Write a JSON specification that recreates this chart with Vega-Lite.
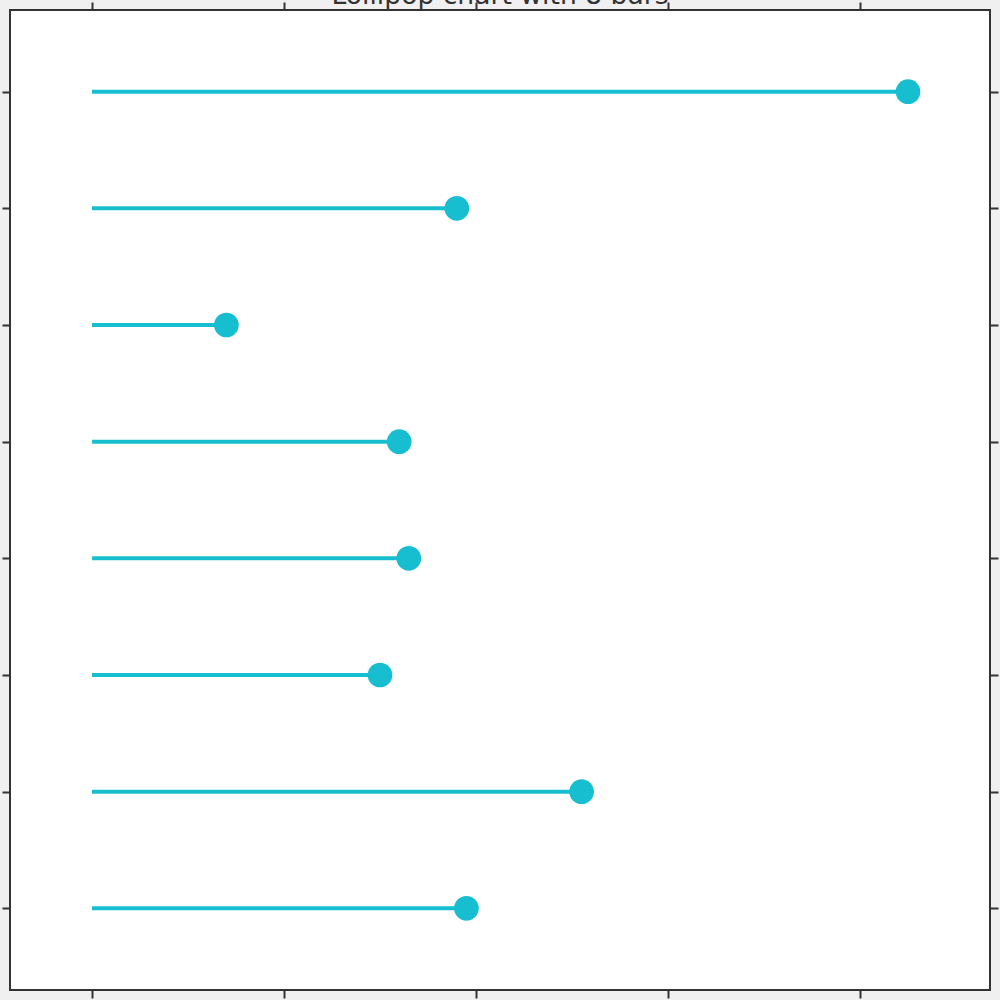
{
  "$schema": "https://vega.github.io/schema/vega-lite/v6.json",
  "width": 980,
  "height": 980,
  "autosize": {"type": "none"},
  "padding": {"left": 10, "top": 10, "right": 10, "bottom": 10},
  "background": "#f0f0f0",
  "config": {
    "view": {"stroke": "#333333", "strokeWidth": 2, "fill": "white"},
    "axis": {"domain": false, "labels": false, "grid": false, "ticks": true, "tickSize": 8, "tickWidth": 2, "tickColor": "#333333", "title": null}
  },
  "title": {
    "text": "Lollipop chart with 8 bars",
    "font": "DejaVu Sans",
    "fontSize": 26.6,
    "fontWeight": "normal",
    "color": "#333333",
    "anchor": "middle",
    "baseline": "alphabetic",
    "offset": -30
  },
  "data": {
    "values": [
      {"label": "Bar 1", "value": 85},
      {"label": "Bar 2", "value": 38},
      {"label": "Bar 3", "value": 14},
      {"label": "Bar 4", "value": 32},
      {"label": "Bar 5", "value": 33},
      {"label": "Bar 6", "value": 30},
      {"label": "Bar 7", "value": 51},
      {"label": "Bar 8", "value": 39}
    ]
  },
  "layer": [
    {
      "mark": {"type": "rule", "color": "#17becf", "strokeWidth": 4},
      "encoding": {
        "y": {"field": "label", "type": "nominal", "sort": null, "scale": {"type": "point", "padding": 0.7}, "axis": {"orient": "left"}},
        "x": {"field": "value", "type": "quantitative", "scale": {"domain": [-8.5417, 93.5417], "nice": false, "zero": false}, "axis": {"orient": "bottom", "values": [0, 20, 40, 60, 80]}},
        "x2": {"datum": 0}
      }
    },
    {
      "mark": {"type": "point", "filled": true, "color": "#17becf", "size": 610, "opacity": 1},
      "encoding": {
        "y": {"field": "label", "type": "nominal", "sort": null, "scale": {"type": "point", "padding": 0.7}, "axis": {"orient": "right"}},
        "x": {"field": "value", "type": "quantitative", "scale": {"domain": [-8.5417, 93.5417], "nice": false, "zero": false}, "axis": {"orient": "top", "values": [0, 20, 40, 60, 80]}}
      }
    }
  ],
  "resolve": {"axis": {"x": "independent", "y": "independent"}}
}
